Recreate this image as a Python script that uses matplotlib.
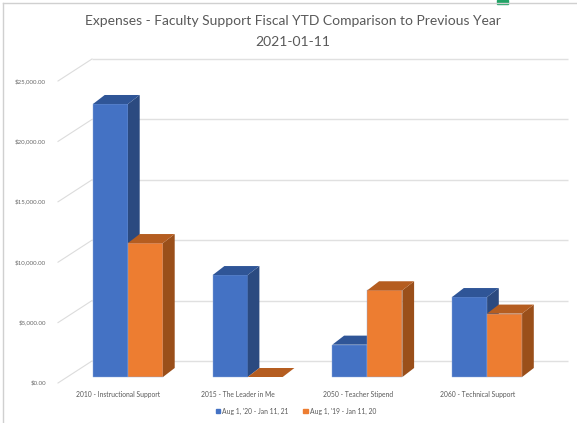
import matplotlib
matplotlib.use('Agg')
import matplotlib.pyplot as plt
from matplotlib.patches import Polygon, Patch, Rectangle
from matplotlib.lines import Line2D

plt.rcParams['font.family'] = ['Lato', 'DejaVu Sans']

categories = ['2010 - Instructional Support', '2015 - The Leader in Me',
              '2050 - Teacher Stipend', '2060 - Technical Support']
current_ytd = [22600, 8440, 2680, 6620]
previous_ytd = [11090, 0, 7180, 5250]
series_names = ["Aug 1, '20 - Jan 11, 21", "Aug 1, '19 - Jan 11, 20"]
y_ticks = [0, 5000, 10000, 15000, 20000, 25000]

W, H = 577, 423
# pixel layout of the fake 3d chart
PX_X0, PX_STEP = 128, 119.7      # front centre of first category, spacing
PX_Y0, PX_PER_USD = 377, 60.4 / 5000
BAR_W = 35 / PX_STEP
DX, DY = 11.7 / PX_STEP, 9 / PX_PER_USD

def fmt_money(v, pos=None):
    return '${:,.2f}'.format(v)

fig = plt.figure(figsize=(W / 100, H / 100), dpi=100)
ax = fig.add_axes([0, 0, 1, 1])
ax.set_xlim(-PX_X0 / PX_STEP, (W - PX_X0) / PX_STEP)
ax.set_ylim((PX_Y0 - H) / PX_PER_USD, PX_Y0 / PX_PER_USD)
ax.axis('off')

# back wall gridlines + diagonal stubs + tick labels
x_wall0 = (92 - PX_X0) / PX_STEP
x_wall1 = (568 - PX_X0) / PX_STEP
x_stub = (58 - PX_X0) / PX_STEP
x_lab = (46 - PX_X0) / PX_STEP
wall_off = 16 / PX_PER_USD
front_off = -6 / PX_PER_USD
for v in y_ticks:
    ax.hlines(v + wall_off, x_wall0, x_wall1, color='#e0e0e0', lw=1, zorder=1)
    ax.plot([x_stub, x_wall0], [v + front_off, v + wall_off], color='#dcdcdc', lw=0.8, zorder=1)
    ax.text(x_lab, v + front_off, fmt_money(v), ha='right', va='center',
            fontsize=4.4, color='#6a6a6a')

colors = [('#4472c4', '#2f5597', '#2b4a80'), ('#ed7d31', '#b55d20', '#9a4f1a')]

def bar3d(x0, v, front, top, side):
    x1 = x0 + BAR_W
    if v > 0:
        ax.bar(x0, v, width=BAR_W, align='edge', color=front, edgecolor='#8faadc',
               linewidth=0.3, zorder=3)
        ax.add_patch(Polygon([(x1, 0), (x1 + DX, DY), (x1 + DX, v + DY), (x1, v)],
                             closed=True, facecolor=side, edgecolor='none', zorder=3))
    ax.add_patch(Polygon([(x0, v), (x1, v), (x1 + DX, v + DY), (x0 + DX, v + DY)],
                         closed=True, facecolor=top, edgecolor='none', zorder=3))

for i in range(len(categories)):
    bar3d(i - BAR_W, current_ytd[i], *colors[0])
    bar3d(i, previous_ytd[i], *colors[1])

# category labels sit on the front edge, a bit left of bar centres
for i, cat in enumerate(categories):
    ax.text(i - 0.08, (PX_Y0 - 394) / PX_PER_USD, cat, ha='center', va='center',
            fontsize=4.9, color='#595959')

fig.text(293 / W, 1 - 21 / H, 'Expenses - Faculty Support Fiscal YTD Comparison to Previous Year',
         ha='center', va='center', fontsize=10, color='#595959')
fig.text(293 / W, 1 - 42 / H, '2021-01-11',
         ha='center', va='center', fontsize=10, color='#595959')

handles = [Patch(color=colors[0][0]), Patch(color=colors[1][0])]
fig.legend(handles, series_names, loc='center', bbox_to_anchor=(296 / W, 1 - 411 / H),
           ncol=2, frameon=False, fontsize=4.9, labelcolor='#595959',
           handlelength=0.6, handleheight=0.6, handletextpad=0.3, columnspacing=2.2)

# frame of the excel chart area and the selection handle
fig.add_artist(Line2D([3 / W, 3 / W], [0, 1 - 3 / H], color='#d0d0d0', lw=1))
fig.add_artist(Line2D([3 / W, 1], [1 - 3 / H, 1 - 3 / H], color='#d0d0d0', lw=1))
fig.add_artist(Rectangle((497 / W, 1 - 4 / H), 11 / W, 4 / H, color='#21a366',
                         transform=fig.transFigure))

fig.savefig('out.png', dpi=100)
